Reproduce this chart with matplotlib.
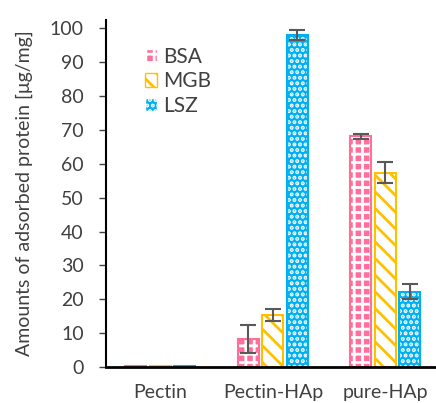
import matplotlib.pyplot as plt
import numpy as np
from matplotlib.patches import Patch

# data
groups = ["Pectin", "Pectin-HAp", "pure-HAp"]
proteins = ["BSA", "MGB", "LSZ"]
bsa = [0.2, 8.2, 68.1]
mgb = [0.2, 15.3, 57.4]
lsz = [0.2, 98.0, 22.3]
bsa_err = [0, 4.1, 0.8]
mgb_err = [0, 1.8, 3.0]
lsz_err = [0, 1.5, 2.2]

colors = ["#FF6F9A", "#FFC000", "#00B0F0"]

plt.rcParams['font.family'] = ['Lato', 'DejaVu Sans']
plt.rcParams['hatch.linewidth'] = 2.0

fig = plt.figure(figsize=(4.36, 4.03), dpi=100)
ax = fig.add_axes([0.243, 0.089, 0.757, 0.862])

x = np.arange(len(groups))
w = 0.187
step = 0.218

# BSA: pink with white checker-like grid
ax.bar(x - step, bsa, w, color=colors[0], edgecolor="white", hatch="++", linewidth=0)
ax.bar(x - step, bsa, w, fill=False, edgecolor=colors[0], linewidth=1.5)
# MGB: white with yellow diagonal stripes
ax.bar(x, mgb, w, color="white", edgecolor=colors[1], hatch="\\\\", linewidth=1.5)
# LSZ: blue with white dots
ax.bar(x + step, lsz, w, color=colors[2], edgecolor="white", hatch="...", linewidth=0)
ax.bar(x + step, lsz, w, fill=False, edgecolor=colors[2], linewidth=1.5)

for off, vals, errs in [(-step, bsa, bsa_err), (0, mgb, mgb_err), (step, lsz, lsz_err)]:
    xs = [xi + off for xi, e in zip(x, errs) if e > 0]
    ys = [v for v, e in zip(vals, errs) if e > 0]
    es = [e for e in errs if e > 0]
    ax.errorbar(xs, ys, yerr=es, fmt="none", ecolor="#595959", elinewidth=1.5,
                capsize=6, capthick=1.5)

handles = [
    Patch(facecolor=colors[0], edgecolor="white", hatch="++", label=proteins[0]),
    Patch(facecolor="white", edgecolor=colors[1], hatch="\\\\", label=proteins[1]),
    Patch(facecolor=colors[2], edgecolor="white", hatch="...", label=proteins[2]),
]
leg = ax.legend(handles=handles, loc="upper left", bbox_to_anchor=(0.06, 0.975),
                frameon=False, fontsize=15, handlelength=0.6, handleheight=0.6,
                handletextpad=0.3, labelspacing=0.2, labelcolor="#404040")

ax.set_xlim(-0.484, 2.45)
ax.set_ylim(0, 102.5)
ax.set_yticks(range(0, 101, 10))
ax.set_xticks(x)
ax.set_xticklabels(groups)
ax.tick_params(axis="x", length=0, pad=12, labelsize=14, labelcolor="#404040")
ax.tick_params(axis="y", direction="out", length=5, width=1, pad=11, labelsize=14,
               labelcolor="#404040", color="#404040")
ax.set_ylabel("Amounts of adsorbed protein [μg/mg]", fontsize=14, color="#404040",
              labelpad=12)
ax.spines["top"].set_visible(False)
ax.spines["right"].set_visible(False)
ax.spines["left"].set_linewidth(1.5)
ax.spines["bottom"].set_linewidth(2)

fig.savefig("out.png", dpi=100)
